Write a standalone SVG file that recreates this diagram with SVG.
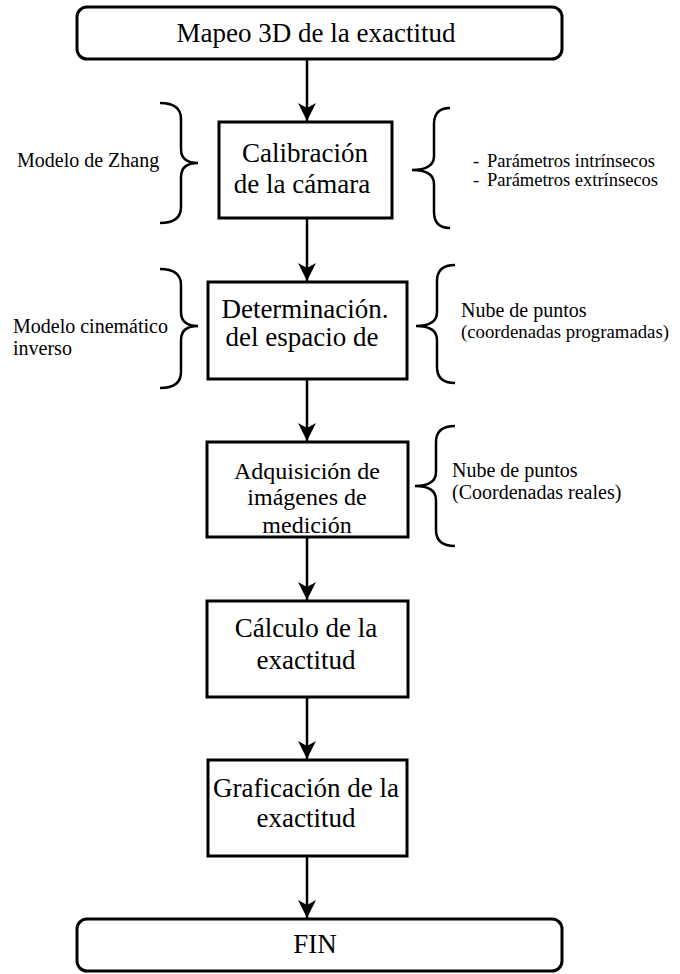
<svg xmlns="http://www.w3.org/2000/svg" width="680" height="974" viewBox="0 0 680 974">
<defs>
<marker id="ah" viewBox="0 0 18 18" markerUnits="userSpaceOnUse" markerWidth="18" markerHeight="18" refX="18" refY="9" orient="auto">
<path d="M0,0 L18,9 L0,18 L5,9 z" fill="#000"/>
</marker>
<style>
.box{fill:#fff;stroke:#000;stroke-width:3}
.t{font-family:"Liberation Serif","Times New Roman",serif;fill:#000}
.bt{font-size:27px;text-anchor:middle}
.lb{font-size:20px}
.conn{stroke:#000;stroke-width:2.5;fill:none;marker-end:url(#ah)}
.brace{stroke:#000;stroke-width:2.5;fill:none}
</style>
</defs>
<rect width="680" height="974" fill="#fff"/>

<g id="connectors">
<line class="conn" x1="307" y1="59" x2="307" y2="121"/>
<line class="conn" x1="307" y1="218" x2="307" y2="281"/>
<line class="conn" x1="307" y1="379" x2="307" y2="441"/>
<line class="conn" x1="307" y1="537" x2="307" y2="600"/>
<line class="conn" x1="307" y1="697" x2="307" y2="759"/>
<line class="conn" x1="307" y1="856" x2="307" y2="918"/>
</g>

<g id="start">
<rect class="box" x="77" y="7" width="485" height="52" rx="10"/>
<text class="t bt" x="316" y="42">Mapeo 3D de la exactitud</text>
</g>

<g id="calibracion">
<rect class="box" x="219" y="122" width="173" height="96"/>
<text class="t bt" x="305" y="162">Calibración</text>
<text class="t bt" x="302" y="193">de la cámara</text>
</g>

<g id="zhang">
<path class="brace" d="M160,103 Q181,103 181,119 L181,149 Q181,163 198,163 Q181,163 181,177 L181,207 Q181,223 160,223"/>
<text class="t lb" x="17" y="167">Modelo de Zhang</text>
</g>

<g id="parametros">
<path class="brace" d="M450,108 Q434,108 434,124 L434,156 Q434,170 412,170 Q434,170 434,184 L434,212 Q434,228 450,228"/>
<text class="t" font-size="18.5" x="473" y="167">-</text>
<text class="t" font-size="18.5" x="487" y="167">Parámetros intrínsecos</text>
<text class="t" font-size="18.5" x="473" y="186">-</text>
<text class="t" font-size="18.5" x="487" y="186">Parámetros extrínsecos</text>
</g>

<g id="determinacion">
<rect class="box" x="208" y="282" width="199" height="97"/>
<text class="t bt" x="305" y="318">Determinación.</text>
<text class="t bt" x="302" y="346">del espacio de</text>
</g>

<g id="cinematico">
<path class="brace" d="M160,269 Q181,269 181,285 L181,312 Q181,326 198,326 Q181,326 181,340 L181,372 Q181,388 160,388"/>
<text class="t lb" x="13" y="333">Modelo cinemático</text>
<text class="t lb" x="13" y="355">inverso</text>
</g>

<g id="nube-programadas">
<path class="brace" d="M455,265 Q437,265 437,281 L437,312 Q437,326 416,326 Q437,326 437,340 L437,367 Q437,383 455,383"/>
<text class="t lb" x="461" y="317">Nube de puntos</text>
<text class="t" font-size="19" x="461" y="338" textLength="208" lengthAdjust="spacingAndGlyphs">(coordenadas programadas)</text>
</g>

<g id="adquisicion">
<rect class="box" x="207" y="442" width="201" height="95"/>
<text class="t" font-size="24" text-anchor="middle" x="307" y="479">Adquisición de</text>
<text class="t" font-size="24" text-anchor="middle" x="307" y="505">imágenes de</text>
<text class="t" font-size="24" text-anchor="middle" x="307" y="533">medición</text>
</g>

<g id="nube-reales">
<path class="brace" d="M455,426 Q436,426 436,442 L436,472 Q436,486 415,486 Q436,486 436,500 L436,530 Q436,546 455,546"/>
<text class="t lb" x="452" y="477">Nube de puntos</text>
<text class="t lb" x="452" y="499">(Coordenadas reales)</text>
</g>

<g id="calculo">
<rect class="box" x="207" y="601" width="201" height="96"/>
<text class="t bt" x="306" y="637">Cálculo de la</text>
<text class="t bt" x="306" y="669">exactitud</text>
</g>

<g id="graficacion">
<rect class="box" x="208" y="760" width="199" height="96"/>
<text class="t bt" x="306" y="797">Graficación de la</text>
<text class="t bt" x="306" y="827">exactitud</text>
</g>

<g id="fin">
<rect class="box" x="77" y="919" width="485" height="52" rx="10"/>
<text class="t bt" x="315" y="953">FIN</text>
</g>
</svg>
